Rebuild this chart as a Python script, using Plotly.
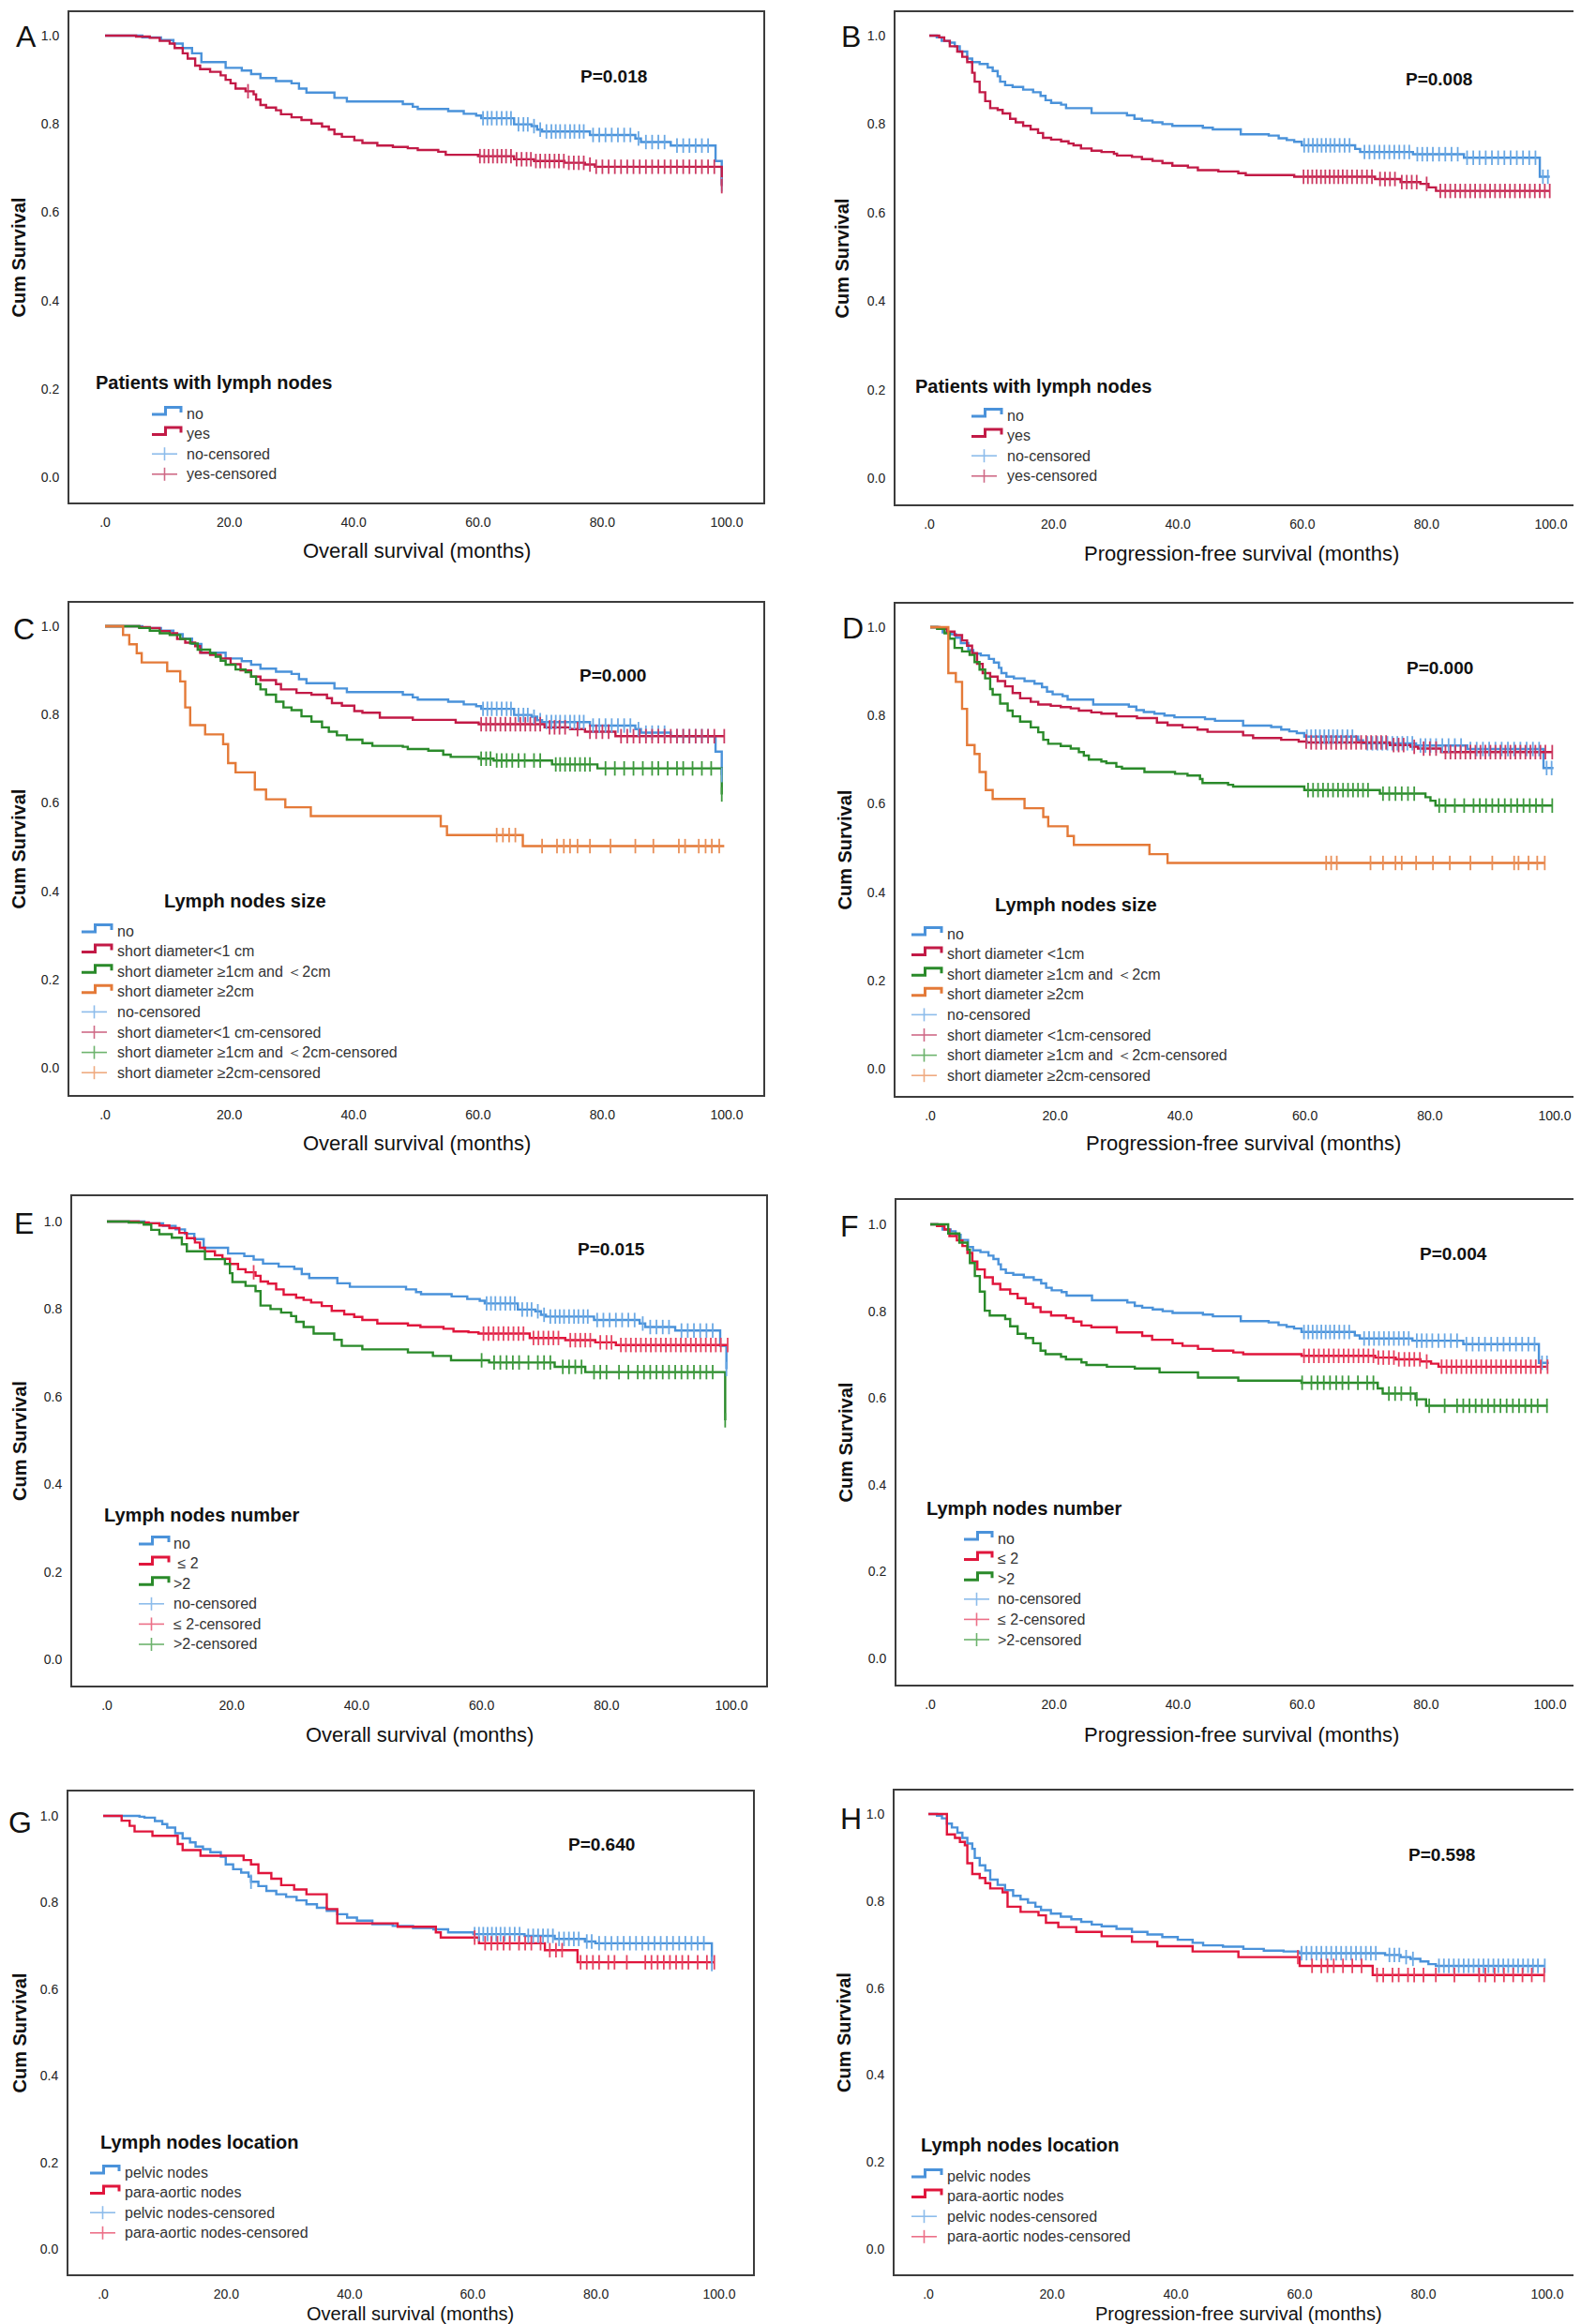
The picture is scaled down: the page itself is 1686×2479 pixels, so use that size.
import plotly.graph_objects as go

W, H = 1686, 2479
FONT = "Liberation Sans, Arial, Helvetica, sans-serif"

# ------------------------------------------------------------------ data
X_TICKS = [0, 20, 40, 60, 80, 100]
X_TICKTEXT = [".0", "20.0", "40.0", "60.0", "80.0", "100.0"]
Y_TICKS = [0, 0.2, 0.4, 0.6, 0.8, 1.0]
Y_TICKTEXT = ["0.0", "0.2", "0.4", "0.6", "0.8", "1.0"]

# Overall survival, no lymph nodes
OS_NO_T = [0, 6, 9, 11, 12.5, 14, 15.5, 19.4, 22, 23.5, 25, 27.5, 30, 31.2, 32.4, 36.9, 38.9, 47.9, 49.5,
           50.3, 55.2, 57.7, 59.7, 60.5, 65.8, 68.6, 69.5, 70.3, 78, 85.3, 86.2, 91, 98.2, 99.2]
OS_NO_S = [1.0, 0.996, 0.99, 0.982, 0.972, 0.96, 0.94, 0.927, 0.921, 0.913, 0.904, 0.897, 0.892, 0.88, 0.871,
           0.859, 0.851, 0.845, 0.839, 0.834, 0.829, 0.823, 0.819, 0.813, 0.799, 0.795, 0.787, 0.783, 0.775,
           0.767, 0.759, 0.751, 0.716, 0.663]
OS_NO_C = [60.8, 61.5, 62.2, 63, 63.8, 64.6, 65.3, 66.5, 67.3, 68, 69, 70, 71, 71.8, 72.5, 73.2, 74, 74.8, 75.5,
           76.3, 77, 78.5, 79.5, 80.5, 81.5, 82.5, 83.5, 84.5, 85.8, 87, 88, 89, 90, 92, 93, 94, 95, 96, 97, 99.2]

# Overall survival, with lymph nodes
OS_YES_T = [0, 5, 7.2, 8.8, 10.4, 11.2, 12.5, 13.3, 14.5, 15.3, 16.9, 18.6, 19.4, 20.2, 21, 22.6, 23.9, 24.3, 25,
            25.9, 27.5, 28.3, 30, 31.6, 33.2, 34.9, 36, 36.9, 38.1, 40.1, 41.4, 43.8, 46.3, 48.7, 50.3, 53.6,
            54.8, 60, 65.8, 69, 73.9, 77.2, 78.8, 99.2]
OS_YES_S = [1.0, 0.998, 0.995, 0.988, 0.982, 0.972, 0.96, 0.948, 0.932, 0.924, 0.918, 0.91, 0.9, 0.892, 0.88,
            0.874, 0.867, 0.855, 0.843, 0.837, 0.831, 0.822, 0.815, 0.809, 0.801, 0.794, 0.787, 0.777, 0.771,
            0.763, 0.757, 0.751, 0.748, 0.745, 0.741, 0.737, 0.73, 0.727, 0.72, 0.716, 0.712, 0.708, 0.703, 0.659]
OS_YES_C = [23, 60.3, 61, 61.7, 62.4, 63.1, 63.8, 64.5, 65.3, 66.2, 67, 67.8, 68.5, 69.3, 70, 70.8, 71.5, 72.3,
            73, 73.8, 74.6, 75.4, 76.2, 77, 78, 79, 80, 81, 82, 83, 84, 85, 86, 87, 88, 89, 90, 91, 92, 93, 94,
            95, 96, 97, 98, 99.2]

# Progression-free survival, no lymph nodes
PFS_NO_T = [0, 1.2, 2, 3.3, 4.1, 4.9, 6.1, 6.9, 8.1, 9.4, 10.2, 11, 11.4, 12.2, 13.4, 15.1, 16.7, 17.9, 18.7,
            19.6, 21.2, 22, 26.1, 31.8, 33, 34.2, 35.9, 37.5, 39.1, 44, 45.6, 50.1, 54.6, 56.2, 57.5, 58.7,
            59.9, 68.5, 69.3, 77.8, 86, 98.2, 99.8]
PFS_NO_S = [1.0, 0.996, 0.988, 0.984, 0.976, 0.964, 0.948, 0.94, 0.936, 0.928, 0.92, 0.908, 0.896, 0.888,
            0.884, 0.878, 0.872, 0.864, 0.854, 0.848, 0.844, 0.836, 0.825, 0.82, 0.812, 0.808, 0.804, 0.8,
            0.796, 0.792, 0.788, 0.777, 0.774, 0.768, 0.764, 0.76, 0.752, 0.744, 0.737, 0.732, 0.724, 0.681,
            0.681]
PFS_NO_C = [60.3, 61, 61.7, 62.4, 63.1, 63.8, 64.5, 65.2, 66, 66.8, 67.6, 70, 70.8, 71.6, 72.4, 73.2, 74, 74.8,
            75.6, 76.4, 77.2, 78.5, 79.3, 80.1, 81, 82, 83, 84, 85, 86.5, 87.5, 88.5, 89.5, 90.5, 91.5, 92.5,
            93.5, 94.5, 95.5, 96.5, 97.5, 98.7, 99.5]

# Progression-free survival, with lymph nodes
PFS_YES_T = [0, 1.6, 2.4, 3.3, 4.5, 5.3, 6.1, 6.9, 7.3, 8.1, 9, 9.8, 11, 11.8, 13, 13.9, 15.1, 16.3, 17.5, 18.3,
             19.6, 21.2, 22.4, 23.2, 24.4, 26.1, 27.7, 29.7, 30.2, 32.6, 34.2, 35.9, 37.5, 39.1, 41.6, 43.2,
             46.5, 49.7, 50.9, 58.7, 71.7, 75.8, 79, 80.3, 81.5, 99.8]
PFS_YES_S = [1.0, 0.996, 0.988, 0.976, 0.964, 0.952, 0.94, 0.916, 0.896, 0.872, 0.852, 0.836, 0.832, 0.824,
             0.812, 0.804, 0.796, 0.788, 0.78, 0.769, 0.765, 0.761, 0.756, 0.752, 0.745, 0.74, 0.737, 0.733,
             0.729, 0.726, 0.721, 0.717, 0.712, 0.706, 0.702, 0.696, 0.693, 0.689, 0.685, 0.681, 0.676, 0.669,
             0.665, 0.657, 0.649, 0.649]
PFS_YES_C = [60.2, 60.9, 61.6, 62.3, 63, 63.7, 64.4, 65.1, 65.8, 66.5, 67.2, 68, 68.8, 69.6, 70.4, 71.2, 72.5,
             73.3, 74.1, 74.9, 76, 76.8, 77.6, 78.4, 80, 82.2, 83, 83.8, 84.6, 85.4, 86.2, 87, 87.8, 88.6, 89.4,
             90.2, 91, 91.8, 92.6, 93.4, 94.2, 95, 95.8, 96.6, 97.4, 98.2, 99, 99.8]

# Overall survival by size
OS_LT1_T = [0, 5.5, 7.2, 8.8, 10.4, 11.6, 12.9, 14.5, 15.3, 16.9, 18.6, 20.2, 21.8, 23.5, 25, 27.5, 28.3, 30.8,
            33.2, 35.7, 36.5, 38.1, 40.1, 41.4, 44.2, 49.5, 56.4, 60.1, 70.7, 74.8, 77.2, 82.1, 99.6]
OS_LT1_S = [1.0, 0.998, 0.996, 0.989, 0.984, 0.971, 0.963, 0.955, 0.94, 0.935, 0.927, 0.914, 0.9, 0.886, 0.878,
            0.869, 0.857, 0.849, 0.845, 0.837, 0.826, 0.82, 0.808, 0.804, 0.793, 0.788, 0.782, 0.778, 0.771,
            0.767, 0.761, 0.751, 0.751]
OS_LT1_C = [60.5, 61.3, 62, 62.8, 63.6, 64.4, 65.2, 66, 66.8, 67.6, 68.4, 69.2, 70, 71.5, 72.3, 73.1, 74, 76, 78,
            79, 80, 81, 83, 84, 85, 86, 87, 88, 89, 90, 91, 92, 93, 94, 95, 96, 97, 98, 99.6]

OS_1TO2_T = [0, 5.5, 7.2, 8.8, 10.4, 12.1, 13.7, 14.9, 16.9, 17.8, 18.6, 19.4, 21, 22.6, 23.5, 24.3, 25, 25.9,
             27.5, 28.7, 30, 31.6, 33.2, 34.9, 36, 37.3, 38.9, 41.4, 43, 47.9, 48.7, 52, 54.4, 55.6, 60.1, 62.5,
             71.9, 79.2, 99.2]
OS_1TO2_S = [1.0, 0.996, 0.99, 0.984, 0.98, 0.971, 0.961, 0.947, 0.939, 0.931, 0.922, 0.913, 0.902, 0.896,
             0.886, 0.869, 0.857, 0.845, 0.829, 0.816, 0.81, 0.796, 0.784, 0.771, 0.761, 0.753, 0.743, 0.735,
             0.729, 0.727, 0.722, 0.718, 0.709, 0.704, 0.7, 0.696, 0.687, 0.678, 0.619]
OS_1TO2_C = [60.5, 61.3, 62, 63, 63.8, 64.6, 65.5, 66.5, 67.5, 69, 70, 72.5, 73.2, 74, 74.8, 75.6, 76.4, 77.2, 78,
             80.5, 82, 83.5, 85, 86.5, 88, 89, 90.5, 92, 93, 94.5, 96, 97.5, 99.2]

OS_GE2_T = [0, 2.9, 3.9, 5.1, 5.9, 10, 12.1, 12.9, 13.7, 16.1, 19, 19.8, 21, 24.1, 25.9, 29, 33.1, 54, 55, 67.2,
            99.6]
OS_GE2_S = [1.0, 0.98, 0.959, 0.939, 0.918, 0.898, 0.875, 0.816, 0.776, 0.755, 0.733, 0.69, 0.669, 0.63, 0.608,
            0.59, 0.57, 0.547, 0.527, 0.502, 0.502]
OS_GE2_C = [63, 64, 65, 66, 70.3, 72.7, 73.8, 74.8, 76, 78, 81.3, 85.3, 88.2, 92.3, 93.3, 95.5, 96.6, 97.6, 98.8]

# Progression-free survival by size
PFS_LT1_T = [0, 1.5, 2.7, 3.9, 5.1, 5.9, 6.7, 7.5, 8.4, 9.6, 10.8, 12, 13.2, 14.4, 16.1, 17.3, 19.3, 20.9, 22.5,
             23.8, 25.8, 27.4, 29.8, 33.1, 36.3, 38, 40.4, 42.8, 44.4, 50.1, 51.7, 56.2, 59, 60.3, 73.6, 76.9,
             78.1, 81.8, 99.6]
PFS_LT1_S = [1.0, 0.996, 0.99, 0.982, 0.97, 0.958, 0.941, 0.917, 0.896, 0.888, 0.878, 0.866, 0.851, 0.839,
             0.831, 0.825, 0.822, 0.819, 0.816, 0.811, 0.807, 0.804, 0.798, 0.794, 0.784, 0.778, 0.773, 0.768,
             0.763, 0.755, 0.749, 0.745, 0.741, 0.739, 0.733, 0.729, 0.725, 0.717, 0.717]
PFS_LT1_C = [60.2, 61, 61.8, 62.6, 63.4, 64.2, 65, 65.8, 66.6, 67.4, 68.2, 69, 69.8, 70.6, 71.4, 72.2, 73, 74.2,
             75, 75.8, 77.5, 79, 80, 81, 82.5, 83.3, 84.1, 84.9, 85.7, 86.5, 87.3, 88.1, 88.9, 89.7, 90.5, 91.3,
             92.1, 92.9, 93.7, 94.5, 95.3, 96.1, 96.9, 97.7, 98.5, 99.6]

PFS_1TO2_T = [0, 1.1, 2.3, 3.1, 3.9, 5.1, 6.3, 7.1, 7.9, 8.8, 9.6, 10, 11.2, 12.4, 13.2, 14.4, 16.1, 17.3, 18.1,
              18.9, 20.9, 22.5, 23.8, 24.6, 25.4, 27.4, 28.2, 29.8, 30.7, 34.3, 39.2, 41.2, 43.2, 43.6, 47.7,
              48.5, 59.9, 72, 79.3, 80.1, 80.9, 99.6]
PFS_1TO2_S = [1.0, 0.996, 0.986, 0.974, 0.953, 0.945, 0.937, 0.921, 0.904, 0.884, 0.86, 0.847, 0.827, 0.811,
              0.798, 0.786, 0.773, 0.762, 0.745, 0.736, 0.731, 0.725, 0.717, 0.709, 0.7, 0.696, 0.692, 0.684,
              0.68, 0.672, 0.668, 0.664, 0.656, 0.647, 0.643, 0.639, 0.631, 0.623, 0.615, 0.607, 0.596, 0.596]
PFS_1TO2_C = [60.5, 61.3, 62.1, 62.9, 63.7, 64.5, 65.3, 66.1, 66.9, 67.7, 68.5, 69.3, 70.1, 72.5, 73.5, 74.5,
              75.5, 76.5, 77.5, 81.5, 82.5, 84, 85.5, 87, 88, 89, 90, 91, 92, 93, 94, 95, 96, 97, 98, 99.6]

PFS_GE2_T = [0, 2.9, 4.1, 5.1, 5.9, 7.1, 7.9, 8.9, 10, 15.1, 18.1, 18.9, 22, 23, 35.1, 38, 98.4]
PFS_GE2_S = [1.0, 0.896, 0.876, 0.815, 0.733, 0.713, 0.672, 0.631, 0.611, 0.59, 0.57, 0.549, 0.527, 0.507, 0.486,
             0.466, 0.466]
PFS_GE2_C = [63.4, 64.2, 65.1, 70.5, 72.5, 74.5, 75.5, 77.8, 80.5, 83.2, 86.5, 90, 93.5, 94.2, 95.8, 97.2, 98.4]

# Overall survival by number
OS_LE2_T = [0, 5.1, 6.7, 8.4, 10, 11.6, 12.8, 14.1, 14.9, 15.7, 17.3, 18.5, 19.7, 21, 22.2, 23.8, 24.6, 25.8,
            27.1, 28.3, 30.3, 31.5, 32.7, 34.4, 36, 38, 39.6, 40.9, 43.3, 48.2, 50.2, 53.9, 55.5, 57.9, 59.5,
            67.7, 73.4, 78.2, 81.5, 99.4]
OS_LE2_S = [1.0, 0.998, 0.996, 0.991, 0.985, 0.974, 0.962, 0.952, 0.94, 0.932, 0.923, 0.915, 0.903, 0.891,
            0.884, 0.876, 0.863, 0.858, 0.845, 0.833, 0.826, 0.821, 0.815, 0.807, 0.796, 0.788, 0.782, 0.775,
            0.767, 0.763, 0.759, 0.755, 0.749, 0.747, 0.744, 0.734, 0.729, 0.724, 0.718, 0.718]
OS_LE2_C = [23.5, 60.3, 61.1, 61.9, 62.7, 63.5, 64.3, 65.1, 65.9, 66.7, 68.3, 69.1, 69.9, 70.7, 71.5, 72.3, 74.2,
            75, 75.8, 76.6, 77.4, 79, 80, 80.8, 82.3, 83.1, 83.9, 84.7, 85.5, 86.3, 87.1, 87.9, 88.7, 89.5, 90.3,
            91.1, 91.9, 92.7, 93.5, 94.3, 95.1, 95.9, 96.7, 97.5, 98.3, 99.4]

OS_GT2_T = [0, 3.5, 5.9, 7.1, 8.4, 10.4, 12, 12.8, 15.7, 18.9, 19.7, 20.1, 22.2, 23.8, 24.6, 26.2, 27.9, 29.5,
            30.3, 31.5, 33.1, 36.4, 37.6, 40.9, 48.2, 52.2, 55.1, 61.2, 71.7, 76.6, 99]
OS_GT2_S = [1.0, 0.998, 0.993, 0.981, 0.971, 0.963, 0.948, 0.932, 0.914, 0.903, 0.882, 0.862, 0.853, 0.841,
            0.808, 0.8, 0.792, 0.784, 0.771, 0.759, 0.744, 0.73, 0.716, 0.708, 0.701, 0.693, 0.683, 0.678, 0.668,
            0.656, 0.546]
OS_GT2_C = [60, 62, 63, 64, 65, 66, 67.5, 69, 70, 71, 73, 74, 75, 76, 78, 79, 80, 82, 83.5, 85, 86, 87, 88, 89,
            90, 91, 92, 93, 94, 95, 96, 97, 99]

# Progression-free survival by number
PFS_LE2_T = [0, 1.1, 2.3, 3.1, 4.3, 5.2, 6, 6.8, 7.6, 8.8, 10.1, 11.3, 12.9, 14.1, 15.4, 16.6, 17.8, 19.5, 21.9,
             23.1, 24.4, 26, 30.1, 34.2, 35.8, 39.1, 40.7, 43.2, 45.6, 48.9, 50.5, 59.9, 71.8, 75.1, 79.1, 80.8,
             82, 99.6]
PFS_LE2_S = [1.0, 0.996, 0.988, 0.973, 0.963, 0.95, 0.934, 0.914, 0.896, 0.878, 0.863, 0.85, 0.84, 0.83, 0.817,
             0.809, 0.798, 0.79, 0.784, 0.776, 0.767, 0.763, 0.751, 0.743, 0.734, 0.726, 0.72, 0.713, 0.709,
             0.705, 0.701, 0.697, 0.693, 0.689, 0.684, 0.679, 0.672, 0.672]
PFS_LE2_C = [60.3, 61.1, 61.9, 62.7, 63.5, 64.3, 65.1, 65.9, 66.7, 67.5, 68.3, 69.1, 69.9, 70.7, 71.5, 72.3,
             73.1, 74, 74.8, 75.6, 76.5, 77.3, 78.1, 79, 80.1, 82.5, 83.3, 84.1, 84.9, 85.7, 86.5, 87.3, 88.1,
             88.9, 89.7, 90.5, 91.3, 92.1, 92.9, 93.7, 94.5, 95.3, 96.1, 96.9, 97.7, 98.5, 99.6]

PFS_GT2_T = [0, 2.9, 4.7, 6, 6.4, 7.2, 8, 8.8, 9.6, 12.1, 12.9, 14.1, 15.4, 16.6, 17.8, 18.6, 21.1, 21.9, 24.4,
             25.2, 28.5, 33, 37, 43.2, 49.7, 59.9, 72.2, 73, 78.3, 80, 99.6]
PFS_GT2_S = [1.0, 0.979, 0.958, 0.942, 0.911, 0.881, 0.845, 0.801, 0.79, 0.782, 0.765, 0.748, 0.738, 0.726,
             0.709, 0.701, 0.695, 0.689, 0.682, 0.676, 0.672, 0.668, 0.659, 0.647, 0.64, 0.635, 0.622, 0.61,
             0.597, 0.582, 0.582]
PFS_GT2_C = [60, 61.5, 62.5, 63.5, 64.5, 65.5, 66.5, 67.5, 69, 70.5, 71.5, 74, 75, 76, 77.5, 78.5, 80.5, 83, 85,
             86, 87, 88, 89, 90, 91, 92, 93, 94, 95, 96, 97, 98, 99.5]

# Overall survival by location
OS_PELV_T = [0, 5.9, 6.7, 8.4, 9.6, 10.4, 11.7, 12.9, 14.1, 15, 16.2, 17.4, 19.1, 19.9, 21.1, 22.4, 23.6, 24,
             25.2, 26.5, 28.1, 29.7, 31.4, 33, 34.7, 36.3, 38, 39.6, 41.2, 43.7, 47, 50.3, 53.6, 56, 60.1, 68.4,
             73.3, 78.2, 79.9, 98.8]
OS_PELV_S = [1.0, 0.998, 0.996, 0.988, 0.981, 0.973, 0.96, 0.948, 0.939, 0.929, 0.923, 0.916, 0.906, 0.888,
             0.877, 0.869, 0.86, 0.848, 0.838, 0.827, 0.819, 0.813, 0.805, 0.796, 0.788, 0.781, 0.773, 0.765,
             0.758, 0.75, 0.746, 0.741, 0.738, 0.731, 0.727, 0.723, 0.716, 0.71, 0.706, 0.658]
OS_PELV_C = [24, 60.3, 61, 61.7, 62.4, 63.1, 63.8, 64.5, 65.2, 66, 66.8, 67.6, 69, 69.8, 70.6, 71.4, 72.2, 73,
             74, 74.8, 75.6, 76.4, 77.2, 78.5, 79.3, 80.5, 81.5, 82.5, 83.5, 84.5, 85.5, 86.5, 87.5, 88.5, 89.5,
             90.5, 91.5, 92.5, 93.5, 94.5, 95.5, 96.5, 97.5, 98.8]

OS_PARA_T = [0, 3, 4.3, 5.1, 8, 12.1, 12.9, 15.8, 22.8, 24, 25.2, 27.3, 28.9, 31, 33, 36.3, 38, 47.8, 54, 54.8,
             61, 71.7, 77, 99.2]
OS_PARA_S = [1.0, 0.989, 0.977, 0.964, 0.954, 0.935, 0.921, 0.908, 0.898, 0.888, 0.868, 0.855, 0.84, 0.83, 0.819,
             0.785, 0.752, 0.744, 0.731, 0.719, 0.706, 0.69, 0.662, 0.662]
OS_PARA_C = [60.3, 62, 63, 64, 65, 66, 67.5, 68.5, 69.5, 71, 72.5, 73.5, 74.5, 77.5, 78.5, 79.5, 80.5, 82, 83, 85,
             88, 89, 90, 91, 92, 93, 94, 95, 96.5, 98, 99.2]

# Progression-free survival by location
PFS_PELV_T = [0, 1.4, 2.2, 3, 3.8, 4.7, 5.5, 6.3, 7.1, 7.5, 8.3, 9.2, 10, 11.2, 12.4, 13.7, 14.9, 16.1, 17.3,
              18.2, 19.8, 21.4, 23.1, 24.7, 26.4, 28, 30.4, 32.9, 35.4, 37.8, 40.3, 42.7, 44.4, 47.6, 50.9, 54.2,
              57.4, 59.9, 73.8, 76.3, 77.9, 79.5, 80.8, 82, 99.6]
PFS_PELV_S = [1.0, 0.996, 0.99, 0.978, 0.969, 0.957, 0.945, 0.932, 0.92, 0.899, 0.882, 0.87, 0.849, 0.837, 0.825,
              0.812, 0.804, 0.796, 0.787, 0.779, 0.771, 0.764, 0.758, 0.752, 0.746, 0.742, 0.736, 0.729, 0.723,
              0.717, 0.711, 0.704, 0.698, 0.695, 0.69, 0.686, 0.684, 0.68, 0.676, 0.671, 0.667, 0.661, 0.655,
              0.651, 0.651]
PFS_PELV_C = [60.3, 61.1, 61.9, 62.7, 63.5, 64.3, 65.1, 65.9, 66.7, 67.5, 68.3, 69.1, 69.9, 70.7, 71.5, 72.3, 74.5,
              75.3, 76.1, 77.2, 78.3, 82.5, 83.3, 84.1, 84.9, 85.7, 86.5, 87.3, 88.1, 88.9, 89.7, 90.5, 91.3,
              92.1, 92.9, 93.7, 94.5, 95.3, 96.1, 96.9, 97.7, 98.5, 99.6]

PFS_PARA_T = [0, 3, 4.3, 5.1, 5.9, 6.3, 7.1, 8.3, 9.2, 10, 12, 12.8, 14.9, 17.8, 19, 21, 23.9, 28, 32.9, 37, 42.7,
              50.1, 60, 71.8, 99.6]
PFS_PARA_S = [1.0, 0.953, 0.945, 0.936, 0.928, 0.887, 0.862, 0.853, 0.841, 0.829, 0.82, 0.787, 0.775, 0.767,
              0.75, 0.74, 0.729, 0.719, 0.706, 0.696, 0.684, 0.671, 0.651, 0.63, 0.63]
PFS_PARA_C = [59.7, 62, 63.5, 64.5, 65.5, 67, 68.5, 70, 72.5, 73.5, 75, 76, 77.5, 78.5, 80, 82, 85, 89, 90, 91.5,
              93, 94.5, 96, 97.5, 99.5]

P_VALUES = ["P=0.018", "P=0.008", "P=0.000", "P=0.000", "P=0.015", "P=0.004", "P=0.640", "P=0.598"]

LEG_A = ["no", "yes", "no-censored", "yes-censored"]
LEG_C = ["no", "short diameter<1 cm", "short diameter ≥1cm and ＜2cm", "short diameter ≥2cm",
         "no-censored", "short diameter<1 cm-censored", "short diameter ≥1cm and ＜2cm-censored",
         "short diameter ≥2cm-censored"]
LEG_D = ["no", "short diameter <1cm", "short diameter ≥1cm and ＜2cm", "short diameter ≥2cm",
         "no-censored", "short diameter <1cm-censored", "short diameter ≥1cm and ＜2cm-censored",
         "short diameter ≥2cm-censored"]
LEG_E = ["no", " ≤ 2", ">2", "no-censored", "≤ 2-censored", ">2-censored"]
LEG_F = ["no", "≤ 2", ">2", "no-censored", "≤ 2-censored", ">2-censored"]
LEG_G = ["pelvic nodes", "para-aortic nodes", "pelvic nodes-censored", "para-aortic nodes-censored"]

# ------------------------------------------------------------------ styles
BLUE = ("#4A92DA", "#6AA8E4", "#8DBCEB")
RED1 = ("#C21A46", "#CC3A62", "#CF6A86")
RED2 = ("#E0163C", "#E6415F", "#EC7088")
GREEN = ("#2A8A2A", "#3E9A3E", "#6DB36D")
ORANGE = ("#E47A38", "#E98F58", "#EFAA80")

OS_TITLE = "Overall survival (months)"
PFS_TITLE = "Progression-free survival (months)"

PANELS = [
    dict(letter="A", letter_xy=(20, 31), box=(66, 806, 5, 528), xt=(104, 767), yt=(30, 501),
         curves=[(OS_NO_T, OS_NO_S, OS_NO_C, BLUE), (OS_YES_T, OS_YES_S, OS_YES_C, RED1)],
         p_xy=(646, 74), xtitle=OS_TITLE, xtitle_xy=(436, 580), xtitle_size=22, ytitle_x=11,
         leg_title="Patients with lymph nodes", leg_title_xy=(92, 400), leg_icon=(154, 185), leg_text=189,
         leg_row0=433, labels=LEG_A),
    dict(letter="B", letter_xy=(899, 31), box=(947, 1684, 5, 530), xt=(983, 1646), yt=(30, 502),
         curves=[(PFS_NO_T, PFS_NO_S, PFS_NO_C, BLUE), (PFS_YES_T, PFS_YES_S, PFS_YES_C, RED1)],
         p_xy=(1526, 77), xtitle=PFS_TITLE, xtitle_xy=(1316, 582), xtitle_size=22, ytitle_x=890,
         leg_title="Patients with lymph nodes", leg_title_xy=(966, 404), leg_icon=(1028, 1060), leg_text=1064,
         leg_row0=435, labels=LEG_A),
    dict(letter="C", letter_xy=(17, 663), box=(66, 806, 635, 1160), xt=(104, 767), yt=(660, 1131),
         curves=[(OS_NO_T, OS_NO_S, OS_NO_C, BLUE), (OS_LT1_T, OS_LT1_S, OS_LT1_C, RED1),
                 (OS_1TO2_T, OS_1TO2_S, OS_1TO2_C, GREEN), (OS_GE2_T, OS_GE2_S, OS_GE2_C, ORANGE)],
         p_xy=(645, 713), xtitle=OS_TITLE, xtitle_xy=(436, 1212), xtitle_size=22, ytitle_x=11,
         leg_title="Lymph nodes size", leg_title_xy=(165, 953), leg_icon=(79, 111), leg_text=115,
         leg_row0=985, labels=LEG_C),
    dict(letter="D", letter_xy=(901, 662), box=(947, 1684, 636, 1161), xt=(984, 1650), yt=(661, 1132),
         curves=[(PFS_NO_T, PFS_NO_S, PFS_NO_C, BLUE), (PFS_LT1_T, PFS_LT1_S, PFS_LT1_C, RED1),
                 (PFS_1TO2_T, PFS_1TO2_S, PFS_1TO2_C, GREEN), (PFS_GE2_T, PFS_GE2_S, PFS_GE2_C, ORANGE)],
         p_xy=(1527, 705), xtitle=PFS_TITLE, xtitle_xy=(1318, 1212), xtitle_size=22, ytitle_x=892,
         leg_title="Lymph nodes size", leg_title_xy=(1051, 957), leg_icon=(964, 996), leg_text=1000,
         leg_row0=988, labels=LEG_D),
    dict(letter="E", letter_xy=(17, 1297), box=(69, 809, 1268, 1790), xt=(106, 772), yt=(1295, 1762),
         curves=[(OS_NO_T, OS_NO_S, OS_NO_C, BLUE), (OS_LE2_T, OS_LE2_S, OS_LE2_C, RED2),
                 (OS_GT2_T, OS_GT2_S, OS_GT2_C, GREEN)],
         p_xy=(644, 1324), xtitle=OS_TITLE, xtitle_xy=(439, 1842), xtitle_size=22, ytitle_x=13,
         leg_title="Lymph nodes number", leg_title_xy=(101, 1608), leg_icon=(140, 172), leg_text=175,
         leg_row0=1638, labels=LEG_E),
    dict(letter="F", letter_xy=(898, 1300), box=(948, 1682, 1272, 1789), xt=(984, 1645), yt=(1298, 1761),
         curves=[(PFS_NO_T, PFS_NO_S, PFS_NO_C, BLUE), (PFS_LE2_T, PFS_LE2_S, PFS_LE2_C, RED2),
                 (PFS_GT2_T, PFS_GT2_S, PFS_GT2_C, GREEN)],
         p_xy=(1542, 1329), xtitle=PFS_TITLE, xtitle_xy=(1316, 1842), xtitle_size=22, ytitle_x=893,
         leg_title="Lymph nodes number", leg_title_xy=(978, 1601), leg_icon=(1020, 1050), leg_text=1054,
         leg_row0=1633, labels=LEG_F),
    dict(letter="G", letter_xy=(14, 1936), box=(65, 795, 1903, 2418), xt=(102, 759), yt=(1929, 2391),
         curves=[(OS_PELV_T, OS_PELV_S, OS_PELV_C, BLUE), (OS_PARA_T, OS_PARA_S, OS_PARA_C, RED2)],
         p_xy=(633, 1960), xtitle=OS_TITLE, xtitle_xy=(429, 2460), xtitle_size=20, ytitle_x=12,
         leg_title="Lymph nodes location", leg_title_xy=(97, 2277), leg_icon=(88, 119), leg_text=123,
         leg_row0=2309, labels=LEG_G),
    dict(letter="H", letter_xy=(900, 1932), box=(946, 1679, 1902, 2418), xt=(982, 1642), yt=(1927, 2391),
         curves=[(PFS_PELV_T, PFS_PELV_S, PFS_PELV_C, BLUE), (PFS_PARA_T, PFS_PARA_S, PFS_PARA_C, RED2)],
         p_xy=(1529, 1970), xtitle=PFS_TITLE, xtitle_xy=(1313, 2460), xtitle_size=20, ytitle_x=892,
         leg_title="Lymph nodes location", leg_title_xy=(972, 2280), leg_icon=(964, 996), leg_text=1000,
         leg_row0=2313, labels=LEG_G),
]

ROW_STEP = 21.6


def px(x):
    return x / W


def py(y):
    return 1 - y / H


def surv_at(ts, ss, t):
    v = ss[0]
    for ti, si in zip(ts, ss):
        if ti <= t + 1e-9:
            v = si
        else:
            break
    return v


fig = go.Figure()
layout = dict(
    width=W, height=H, margin=dict(l=0, r=0, t=0, b=0),
    paper_bgcolor="white", plot_bgcolor="white", showlegend=False,
    font=dict(family=FONT, color="#222"),
)
annotations = []
shapes = []

for i, P in enumerate(PANELS, start=1):
    xa = "x" if i == 1 else f"x{i}"
    ya = "y" if i == 1 else f"y{i}"
    L, R, T, B = P["box"]
    x0, x100 = P["xt"]
    y1, y0 = P["yt"]
    xr = [(L - x0) / (x100 - x0) * 100, (R - x0) / (x100 - x0) * 100]
    yr = [(y0 - B) / (y0 - y1), (y0 - T) / (y0 - y1)]
    layout["xaxis" if i == 1 else f"xaxis{i}"] = dict(
        domain=[px(L), px(R)], range=xr, anchor=ya, showgrid=False, zeroline=False,
        showline=True, mirror=True, linecolor="#3c3c3c", linewidth=2, ticks="",
        tickvals=X_TICKS, ticktext=X_TICKTEXT, tickfont=dict(size=14, color="#222"),
        ticklabelstandoff=7, fixedrange=True)
    layout["yaxis" if i == 1 else f"yaxis{i}"] = dict(
        domain=[py(B), py(T)], range=yr, anchor=xa, showgrid=False, zeroline=False,
        showline=True, mirror=True, linecolor="#3c3c3c", linewidth=2, ticks="",
        tickvals=Y_TICKS, ticktext=Y_TICKTEXT, tickfont=dict(size=14, color="#222"),
        ticklabelstandoff=6, fixedrange=True)

    for ts, ss, cs, col in P["curves"]:
        fig.add_trace(go.Scatter(x=ts, y=ss, mode="lines", line=dict(shape="hv", color=col[0], width=2.4),
                                 xaxis=xa, yaxis=ya, hoverinfo="skip"))
    for ts, ss, cs, col in P["curves"]:
        fig.add_trace(go.Scatter(x=cs, y=[surv_at(ts, ss, c) for c in cs], mode="markers",
                                 marker=dict(symbol="line-ns", size=11, color=col[1],
                                             line=dict(width=1.8, color=col[1])),
                                 xaxis=xa, yaxis=ya, hoverinfo="skip", cliponaxis=False))

    # panel letter
    lx, ly = P["letter_xy"]
    annotations.append(dict(x=px(lx), y=py(ly), xref="paper", yref="paper", text=P["letter"],
                            showarrow=False, xanchor="center", yanchor="middle",
                            font=dict(size=32, color="#111", family=FONT)))
    # p-value
    qx, qy = P["p_xy"]
    annotations.append(dict(x=px(qx), y=py(qy), xref="paper", yref="paper",
                            text="<b>" + P_VALUES[i - 1] + "</b>", showarrow=False,
                            xanchor="center", yanchor="middle", font=dict(size=19, color="#111")))
    # axis titles
    tx, ty = P["xtitle_xy"]
    annotations.append(dict(x=px(tx), y=py(ty), xref="paper", yref="paper", text=P["xtitle"],
                            showarrow=False, xanchor="center", yanchor="middle",
                            font=dict(size=P["xtitle_size"], color="#111")))
    annotations.append(dict(x=px(P["ytitle_x"]), y=py((T + B) / 2), xref="paper", yref="paper",
                            text="<b>Cum Survival</b>", textangle=-90, showarrow=False,
                            xanchor="center", yanchor="middle", font=dict(size=20, color="#111")))
    # legend
    gx, gy = P["leg_title_xy"]
    annotations.append(dict(x=px(gx), y=py(gy), xref="paper", yref="paper",
                            text="<b>" + P["leg_title"] + "</b>", showarrow=False,
                            xanchor="left", yanchor="middle", font=dict(size=20, color="#111")))
    il, ir = P["leg_icon"]
    n = len(P["curves"])
    for k, lab in enumerate(P["labels"]):
        yc = P["leg_row0"] + k * ROW_STEP
        col = P["curves"][k % n][3]
        annotations.append(dict(x=px(P["leg_text"]), y=py(yc), xref="paper", yref="paper", text=lab,
                                showarrow=False, xanchor="left", yanchor="middle",
                                font=dict(size=16, color="#333")))
        if k < n:
            xm = il + 14.5
            path = (f"M {px(il)},{py(yc + 1)} L {px(xm)},{py(yc + 1)} L {px(xm)},{py(yc - 6.5)} "
                    f"L {px(ir)},{py(yc - 6.5)} L {px(ir)},{py(yc - 1)}")
            shapes.append(dict(type="path", xref="paper", yref="paper", path=path,
                               line=dict(color=col[0], width=3)))
        else:
            shapes.append(dict(type="line", xref="paper", yref="paper", x0=px(il), x1=px(il + 27),
                               y0=py(yc), y1=py(yc), line=dict(color=col[2], width=1.6)))
            shapes.append(dict(type="line", xref="paper", yref="paper", x0=px(il + 13.5), x1=px(il + 13.5),
                               y0=py(yc - 7), y1=py(yc + 7), line=dict(color=col[2], width=1.6)))

layout["annotations"] = annotations
layout["shapes"] = shapes
fig.update_layout(**layout)
fig.write_html("out.html", config={"displayModeBar": False})
